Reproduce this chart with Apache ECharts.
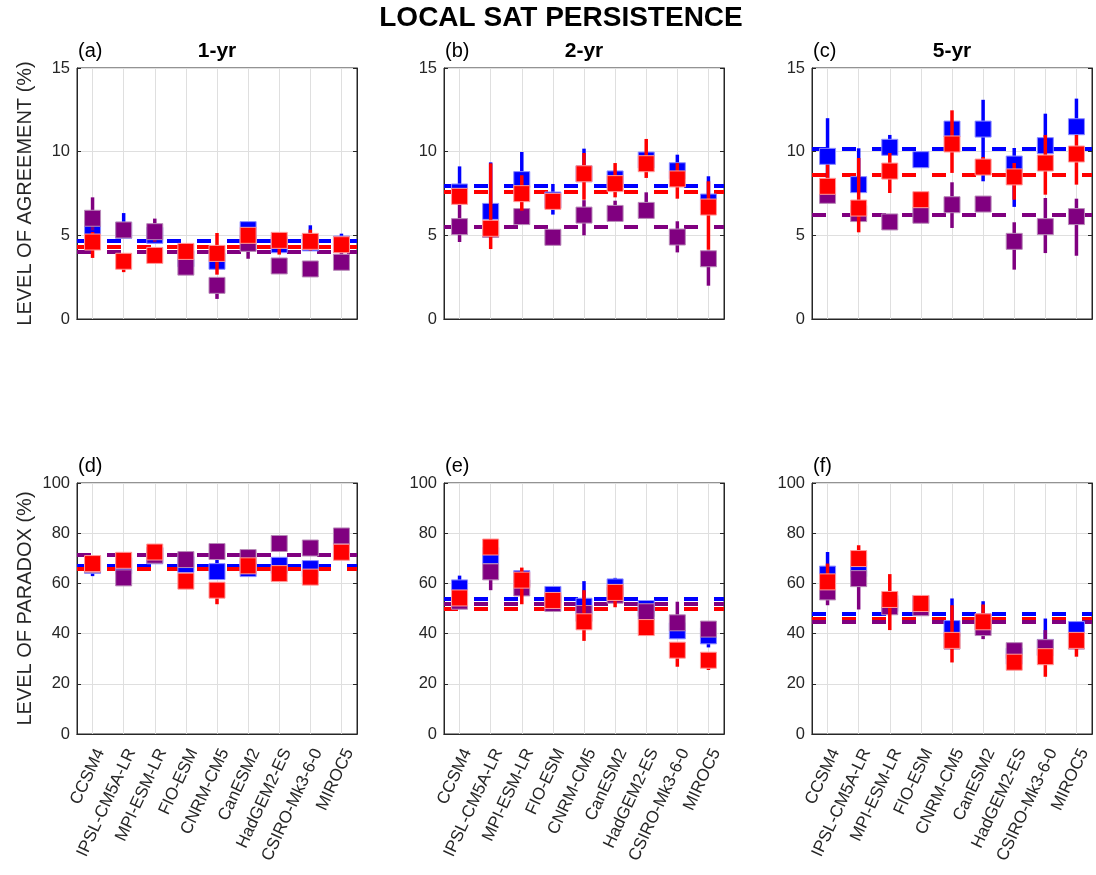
<!DOCTYPE html>
<html>
<head>
<meta charset="utf-8">
<script src="https://cdn.jsdelivr.net/npm/echarts@6/dist/echarts.min.js"></script>
<style>
  html, body { margin: 0; padding: 0; background: #ffffff; }
  #chart { width: 1096px; height: 875px; }
</style>
</head>
<body>
<div id="chart"></div>
<script>
// Climate models along the x axis
const models = ['CCSM4', 'IPSL-CM5A-LR', 'MPI-ESM-LR', 'FIO-ESM', 'CNRM-CM5',
                'CanESM2', 'HadGEM2-ES', 'CSIRO-Mk3-6-0', 'MIROC5'];

// Each entry: [central value, lower bound, upper bound]
// (a) agreement, 1-yr
const blueA   = [[5.35,4.9,5.9],[5.3,4.9,6.33],[5.0,4.7,5.3],[3.6,3.3,3.8],[3.45,3.1,3.8],[5.34,5.1,5.6],[4.44,4.2,4.7],[4.55,4.3,5.6],[4.48,4.3,5.1]];
const redA    = [[4.6,3.65,5.2],[3.45,2.8,3.8],[3.8,3.5,4.1],[4.04,3.55,4.3],[3.92,2.65,5.14],[5.0,4.7,5.3],[4.7,3.85,5.0],[4.64,4.1,5.34],[4.44,4.1,4.8]];
const purpleA = [[6.02,5.3,7.27],[5.32,5.0,5.7],[5.22,4.6,6.0],[3.1,2.9,3.3],[2.01,1.2,2.3],[4.52,3.6,4.8],[3.17,3.0,3.4],[2.99,2.8,3.2],[3.39,3.1,4.24]];
const meanA   = [4.65, 4.3, 4.0];   // blue, red, purple

// (b) agreement, 2-yr
const blueB   = [[7.59,7.2,9.12],[6.43,5.9,9.36],[8.33,7.9,9.98],[7.11,6.24,8.07],[8.68,8.3,10.18],[8.37,8.0,8.8],[9.5,9.2,9.9],[8.86,8.5,9.82],[6.99,6.6,8.53]];
const redB    = [[7.33,7.0,7.7],[5.42,4.18,9.3],[7.49,6.47,8.59],[7.03,6.6,7.4],[8.68,7.13,9.92],[8.09,7.27,9.32],[9.28,8.43,10.76],[8.37,7.19,9.32],[6.69,4.14,8.23]];
const purpleB = [[5.52,4.6,6.83],[5.35,5.0,5.7],[6.12,5.8,6.5],[4.88,4.6,5.2],[6.21,5.0,7.1],[6.31,5.9,7.07],[6.49,6.1,7.57],[4.9,3.98,5.84],[3.6,1.99,4.1]];
const meanB   = [7.99, 7.59, 5.5];

// (c) agreement, 5-yr
const blueC   = [[9.72,7.45,12.0],[8.03,7.7,10.2],[10.26,9.9,11.0],[9.52,9.1,9.9],[11.35,10.9,11.8],[11.35,8.23,13.1],[9.26,6.7,10.22],[10.36,9.9,12.27],[11.49,11.1,13.17]];
const redC    = [[7.93,7.5,9.22],[6.63,5.18,9.62],[8.84,7.53,9.92],[7.13,6.8,7.5],[10.46,8.73,12.47],[9.08,8.7,9.68],[8.49,7.13,9.32],[9.32,7.43,11.0],[9.86,8.03,11.0]];
const purpleC = [[7.39,7.0,7.8],[6.3,6.0,6.6],[5.8,5.5,6.1],[6.2,5.9,6.5],[6.83,5.44,8.17],[6.87,6.5,7.2],[4.64,2.95,5.78],[5.52,3.94,7.23],[6.12,3.78,7.19]];
const meanC   = [10.18, 8.65, 6.25];

// (d) paradox, 1-yr
const blueD   = [[67.2,62.9,69],[67,65,69],[71,69,73],[67.5,66,69],[64.7,62,69.5],[65.9,64,68],[67.2,65,69],[65.9,64,68],[73,71,75]];
const redD    = [[67.9,66,70],[69.2,67,71],[72.5,70.5,74.5],[60.9,59,63],[57.3,51.7,60],[67,65,69],[63.9,62,66],[62.5,60.5,64.5],[72.4,70.5,74.5]];
const purpleD = [[67.5,65.5,69.5],[62.2,60,64],[71.2,69,73],[69.5,67.5,71.5],[72.7,70.5,74.5],[70.3,68,72],[75.9,74,78],[74.1,72,76],[78.9,77,81]];
const meanD   = [67.2, 65.9, 71.5];

// (e) paradox, 2-yr
const blueE   = [[58.2,56,63.1],[71.1,69,73],[61.9,60,64],[55.6,53.5,57.5],[50.9,48,60.9],[58.6,56.5,62.2],[50.0,48,52],[41.1,39,43],[39.1,34.5,41]];
const redE    = [[54.2,52,56],[74.5,72.5,76.5],[61.3,51.7,66.3],[53.2,51,55],[44.7,37.1,57.3],[56.4,50.5,58.5],[42.4,40.5,44.5],[33.4,26.8,36],[29.4,25.5,31.5]];
const purpleE = [[52.9,51,55],[64.6,57.3,66.5],[58.2,56,60],[52.0,50,54],[48.0,46,50],[55.3,53,57],[48.7,46.5,50.5],[44.3,42,52.7],[41.8,39.5,44]];
const meanE   = [54.0, 50.0, 51.7];

// (f) paradox, 5-yr
const blueF   = [[63.7,61,72.5],[65.9,64,68],[52,50,54],[52,50,54],[42.0,40,54.0],[44.7,42.5,52.9],[31,29,33],[34.5,32.5,46.0],[41.6,39.5,43.5]];
const redF    = [[60.6,58.5,67.9],[69.9,67.5,75.2],[53.6,41.4,63.7],[52.0,50,54],[37.3,28.5,51.3],[44.7,42.5,51.6],[28.6,26.5,30.5],[30.8,22.8,33],[37.3,30.8,39.5]];
const purpleF = [[56.6,51.3,58.5],[61.9,49.6,64],[50.7,48.5,52.5],[50.3,48,52],[37,35,39],[42.4,37.8,44.5],[33.2,31,35],[34.4,32.5,41.4],[37,35,39]];
const meanF   = [48.0, 46.0, 44.7];

const panelLabels = ['(a)', '(b)', '(c)', '(d)', '(e)', '(f)'];
const columnTitles = ['1-yr', '2-yr', '5-yr'];
const rowNames = ['LEVEL OF AGREEMENT (%)', 'LEVEL OF PARADOX (%)'];
const figureTitle = 'LOCAL SAT PERSISTENCE';

const panelData = [
  [blueA, redA, purpleA, meanA],
  [blueB, redB, purpleB, meanB],
  [blueC, redC, purpleC, meanC],
  [blueD, redD, purpleD, meanD],
  [blueE, redE, purpleE, meanE],
  [blueF, redF, purpleF, meanF]
];

const BLUE = '#0000ff', RED = '#ff0000', PURPLE = '#800080';
const EDGE = { [BLUE]: '#8c8cff', [RED]: '#ff9a9a', [PURPLE]: '#b88ab8' };
const INK = '#262626';
const FONT = '"Liberation Sans", Arial, Helvetica, sans-serif';

const colLeft = [77, 444, 812];
const rowTop = [68, 483];
const plotW = 280, plotH = 251;

const grids = [], xAxes = [], yAxes = [], series = [], graphics = [];

function renderMarker(color) {
  return function (params, api) {
    const i = api.value(0);
    const pc = api.coord([i, api.value(1)]);
    const pl = api.coord([i, api.value(2)]);
    const ph = api.coord([i, api.value(3)]);
    const s = 16;
    return {
      type: 'group',
      children: [
        { type: 'line', shape: { x1: pc[0], y1: pl[1], x2: pc[0], y2: ph[1] },
          style: { stroke: color, lineWidth: 3.5 } },
        { type: 'rect', shape: { x: pc[0] - s / 2, y: pc[1] - s / 2, width: s, height: s },
          style: { fill: color, stroke: EDGE[color], lineWidth: 1 } }
      ]
    };
  };
}

panelData.forEach((pd, p) => {
  const row = Math.floor(p / 3), col = p % 3;
  const [blue, red, purple, mean] = pd;
  const top = row === 0;
  grids.push({ left: colLeft[col], top: rowTop[row], width: plotW, height: plotH,
               show: true, borderColor: INK, borderWidth: 1, backgroundColor: '#ffffff' });

  const xi = xAxes.length;
  // bottom category axis
  xAxes.push({
    type: 'category', gridIndex: p, data: models, boundaryGap: true, position: 'bottom',
    axisLine: { lineStyle: { color: INK, width: 1 } },
    axisTick: { inside: true, alignWithLabel: true, length: 4, lineStyle: { color: INK } },
    axisLabel: { show: !top, rotate: 65, interval: 0, fontSize: 17, color: INK, margin: 12,
                 verticalAlign: 'top', fontFamily: FONT },
    splitLine: { show: false }
  });
  // top mirror axis (ticks only)
  xAxes.push({
    type: 'category', gridIndex: p, data: models, boundaryGap: true, position: 'top',
    axisLine: { lineStyle: { color: INK, width: 1 } },
    axisTick: { inside: true, alignWithLabel: true, length: 4, lineStyle: { color: INK } },
    axisLabel: { show: false }, splitLine: { show: false }
  });

  const yi = yAxes.length;
  const yMax = top ? 15 : 100, yStep = top ? 5 : 20;
  yAxes.push({
    type: 'value', gridIndex: p, min: 0, max: yMax, interval: yStep, position: 'left',
    axisLine: { show: true, lineStyle: { color: INK, width: 1 } },
    axisTick: { show: true, inside: true, length: 4, lineStyle: { color: INK } },
    axisLabel: { fontSize: 16.5, color: INK, margin: 7, fontFamily: FONT },
    splitLine: { show: true, lineStyle: { color: '#dfdfdf', width: 1 } },
    name: col === 0 ? rowNames[row] : '', nameLocation: 'middle', nameGap: 42, nameRotate: 90,
    nameTextStyle: { fontSize: 20, color: INK, fontFamily: FONT }
  });
  yAxes.push({
    type: 'value', gridIndex: p, min: 0, max: yMax, interval: yStep, position: 'right',
    axisLine: { show: true, lineStyle: { color: INK, width: 1 } },
    axisTick: { show: true, inside: true, length: 4, lineStyle: { color: INK } },
    axisLabel: { show: false }, splitLine: { show: false }
  });

  // vertical grid lines at each model
  series.push({
    type: 'line', xAxisIndex: xi, yAxisIndex: yi, data: [], z: 1, silent: true,
    markLine: { z: 1, silent: true, symbol: 'none', animation: false, label: { show: false },
      lineStyle: { color: '#dfdfdf', width: 1, type: 'solid' },
      data: models.map(m => ({ xAxis: m })) }
  });

  // dashed multi-model means
  [[BLUE, mean[0]], [RED, mean[1]], [PURPLE, mean[2]]].forEach(([c, v]) => {
    series.push({
      type: 'line', xAxisIndex: xi, yAxisIndex: yi, data: [], z: 2, silent: true,
      markLine: { z: 2, silent: true, symbol: 'none', animation: false, label: { show: false },
        lineStyle: { color: c, width: 4, type: [14, 16] },
        data: [{ yAxis: v }] }
    });
  });

  // model markers with ranges: blue beneath, then purple, then red on top
  [[BLUE, blue, 3], [PURPLE, purple, 4], [RED, red, 5]].forEach(([c, arr, z]) => {
    series.push({
      type: 'custom', xAxisIndex: xi, yAxisIndex: yi, z: z, silent: true, animation: false,
      renderItem: renderMarker(c),
      encode: { x: 0, y: [1, 2, 3] },
      data: arr.map((d, i) => [i, d[0], d[1], d[2]])
    });
  });

  // panel letter and column title
  graphics.push({ type: 'text', left: colLeft[col] + 1, top: rowTop[row] - 27,
    style: { text: panelLabels[p], font: '20px ' + FONT, fill: '#000000' } });
  if (top) {
    graphics.push({ type: 'text', x: colLeft[col] + plotW / 2, y: rowTop[row] - 17,
      style: { text: columnTitles[col], font: 'bold 21px ' + FONT, fill: '#000000',
               textAlign: 'center', textVerticalAlign: 'middle' } });
  }
});

graphics.push({ type: 'text', x: 561, y: 18,
  style: { text: figureTitle, font: 'bold 28px ' + FONT, fill: '#000000',
           textAlign: 'center', textVerticalAlign: 'middle' } });

const chart = echarts.init(document.getElementById('chart'), null, { renderer: 'canvas' });
chart.setOption({
  animation: false,
  backgroundColor: '#ffffff',
  textStyle: { fontFamily: FONT },
  grid: grids,
  xAxis: xAxes,
  yAxis: yAxes,
  series: series,
  graphic: graphics
});
</script>
</body>
</html>
